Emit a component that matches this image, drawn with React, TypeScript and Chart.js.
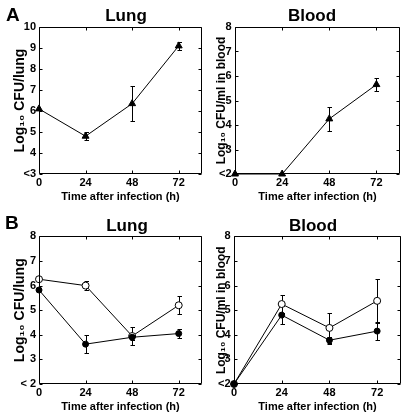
import React, { useEffect, useRef } from 'react';
import { Chart, registerables } from 'chart.js';

Chart.register(...registerables);

const FONT = "'Liberation Sans', Arial, Helvetica, sans-serif";

// ---------- data ----------
const hours = [0, 24, 48, 72];
const xTickValues = [0, 24, 48, 72];
const xTickLabels = ['0', '24', '48', '72'];

const lungAYTicks = [3, 4, 5, 6, 7, 8, 9, 10];
const lungAYLabels = ['<3', '4', '5', '6', '7', '8', '9', '10'];
const log2to8Ticks = [2, 3, 4, 5, 6, 7, 8];
const lungBYLabels = ['< 2', '3', '4', '5', '6', '7', '8'];
const bloodYLabels = ['<2', '3', '4', '5', '6', '7', '8'];

// Panel A (triangles)
const lungA = [6.1, 4.8, 6.35, 9.1];
const lungAErr = [0, 0.2, 0.85, 0.2];
const bloodA = [2, 2, 4.25, 5.65];
const bloodAErr = [0, 0, 0.5, 0.25];

// Panel B (filled and open circles)
const lungBFilled = [5.82, 3.62, 3.9, 4.05];
const lungBFilledErr = [0, 0.38, 0.1, 0.2];
const lungBOpen = [6.26, 6.0, 3.95, 5.2];
const lungBOpenErr = [0, 0.18, 0.35, 0.37];
const bloodBFilled = [2, 4.8, 3.78, 4.15];
const bloodBFilledErr = [0, 0.38, 0.15, 0.38];
const bloodBOpen = [2, 5.25, 4.28, 5.38];
const bloodBOpenErr = [0, 0.36, 0.6, 0.9];

// ---------- plugin: frame, inward ticks, error bars ----------
const decorPlugin = {
  id: 'decor',
  beforeDatasetsDraw(chart: any) {
    const ctx = chart.ctx;
    const yScale = chart.scales.y;
    ctx.save();
    ctx.strokeStyle = '#000';
    ctx.lineWidth = 1;
    chart.data.datasets.forEach((ds: any, i: number) => {
      const meta = chart.getDatasetMeta(i);
      const errs = ds.errors || [];
      meta.data.forEach((pt: any, j: number) => {
        const e = errs[j];
        if (!e) return;
        const v = ds.data[j].y;
        const x = Math.round(pt.x) + 0.5;
        const yTop = Math.round(yScale.getPixelForValue(v + e)) + 0.5;
        const yBot = Math.round(yScale.getPixelForValue(v - e)) + 0.5;
        const cap = 2;
        ctx.beginPath();
        ctx.moveTo(x, yTop);
        ctx.lineTo(x, yBot);
        ctx.moveTo(x - cap, yTop);
        ctx.lineTo(x + cap + 0.5, yTop);
        ctx.moveTo(x - cap, yBot);
        ctx.lineTo(x + cap + 0.5, yBot);
        ctx.stroke();
      });
    });
    ctx.restore();
  },
  afterDraw(chart: any) {
    const ctx = chart.ctx;
    const { left, right, top, bottom } = chart.chartArea;
    const L = Math.round(left) + 0.5;
    const R = Math.round(right) - 0.5;
    const T = Math.round(top) + 0.5;
    const B = Math.round(bottom) - 0.5;
    const tl = 3;
    ctx.save();
    ctx.strokeStyle = '#000';
    ctx.lineWidth = 1;
    ctx.beginPath();
    ctx.rect(L, T, R - L, B - T);
    const xs = chart.scales.x;
    xs.ticks.forEach((t: any) => {
      const px = Math.round(xs.getPixelForValue(t.value)) + 0.5;
      ctx.moveTo(px, B);
      ctx.lineTo(px, B - tl);
      ctx.moveTo(px, T);
      ctx.lineTo(px, T + tl);
    });
    const ys = chart.scales.y;
    ys.ticks.forEach((t: any) => {
      const py = Math.round(ys.getPixelForValue(t.value)) + 0.5;
      ctx.moveTo(L, py);
      ctx.lineTo(L + tl, py);
      ctx.moveTo(R, py);
      ctx.lineTo(R - tl, py);
    });
    ctx.stroke();
    ctx.restore();
  },
};

type Series = { values: number[]; errors: number[]; style: 'triangle' | 'filled' | 'open' };

type PanelSpec = {
  left: number;
  top: number;
  width: number;
  height: number;
  title: string;
  titlePad: { top: number; bottom: number };
  yTitle: string;
  yTitleSize: number;
  yTitlePad: number;
  yMin: number;
  yMax: number;
  yTicks: number[];
  yLabels: string[];
  yAxisWidth: number;
  yTickPad: number;
  rightWidth: number;
  series: Series[];
};

function makeDataset(s: Series) {
  return {
    data: hours.map((h, i) => ({ x: h, y: s.values[i] })),
    errors: s.errors,
    borderColor: '#000',
    borderWidth: 1,
    pointStyle: s.style === 'triangle' ? 'triangle' : 'circle',
    pointRadius: s.style === 'triangle' ? 4 : s.style === 'open' ? 3.5 : 3,
    pointBackgroundColor: s.style === 'open' ? '#fff' : '#000',
    pointBorderColor: '#000',
    pointBorderWidth: 1,
    tension: 0,
    fill: false,
    clip: false,
  };
}

function makeConfig(p: PanelSpec): any {
  return {
    type: 'line',
    data: { datasets: p.series.map(makeDataset) },
    plugins: [decorPlugin],
    options: {
      animation: false,
      responsive: false,
      maintainAspectRatio: false,
      events: [],
      layout: { padding: 0 },
      plugins: {
        legend: { display: false },
        tooltip: { enabled: false },
        title: {
          display: true,
          text: p.title,
          color: '#000',
          font: { family: FONT, size: 17, weight: 'bold' },
          padding: p.titlePad,
        },
      },
      scales: {
        x: {
          type: 'linear',
          min: 0,
          max: 84,
          afterBuildTicks: (s: any) => {
            s.ticks = xTickValues.map((v) => ({ value: v }));
          },
          afterFit: (s: any) => {
            s.height = 36;
          },
          grid: { display: false, drawTicks: false },
          border: { display: false },
          ticks: {
            color: '#000',
            padding: 2,
            maxRotation: 0,
            autoSkip: false,
            font: { family: FONT, size: 11, weight: 'bold' },
            callback: (_v: any, i: number) => xTickLabels[i],
          },
          title: {
            display: true,
            text: 'Time after infection (h)',
            color: '#000',
            font: { family: FONT, size: 11, weight: 'bold' },
            padding: { top: 0, bottom: 6.4 },
          },
        },
        y: {
          type: 'linear',
          position: 'left',
          min: p.yMin,
          max: p.yMax,
          afterBuildTicks: (s: any) => {
            s.ticks = p.yTicks.map((v) => ({ value: v }));
          },
          afterFit: (s: any) => {
            s.width = p.yAxisWidth;
          },
          grid: { display: false, drawTicks: false },
          border: { display: false },
          ticks: {
            color: '#000',
            padding: p.yTickPad,
            autoSkip: false,
            font: { family: FONT, size: 11, weight: 'bold' },
            callback: (_v: any, i: number) => p.yLabels[i],
          },
          title: {
            display: true,
            text: p.yTitle,
            color: '#000',
            font: { family: FONT, size: p.yTitleSize, weight: 'bold' },
            padding: { top: p.yTitlePad, bottom: 0 },
          },
        },
        spacer: {
          type: 'linear',
          position: 'right',
          display: true,
          grid: { display: false, drawTicks: false },
          border: { display: false },
          ticks: { display: false },
          afterFit: (s: any) => {
            s.width = p.rightWidth;
          },
        },
      },
    },
  };
}

function Panel({ spec }: { spec: PanelSpec }) {
  const ref = useRef<HTMLCanvasElement | null>(null);
  useEffect(() => {
    if (!ref.current) return;
    const chart = new Chart(ref.current, makeConfig(spec));
    return () => chart.destroy();
  }, [spec]);
  return (
    <canvas
      ref={ref}
      width={spec.width}
      height={spec.height}
      style={{
        position: 'absolute',
        left: spec.left,
        top: spec.top,
        width: spec.width,
        height: spec.height,
      }}
    />
  );
}

const panels: PanelSpec[] = [
  {
    left: 0, top: 0, width: 252, height: 210,
    title: 'Lung', titlePad: { top: 6.6, bottom: 0 },
    yTitle: 'Log₁₀ CFU/lung', yTitleSize: 14, yTitlePad: 12,
    yMin: 3, yMax: 10, yTicks: lungAYTicks, yLabels: lungAYLabels,
    yAxisWidth: 39, yTickPad: 3, rightWidth: 50,
    series: [{ values: lungA, errors: lungAErr, style: 'triangle' }],
  },
  {
    left: 208, top: 0, width: 208, height: 210,
    title: 'Blood', titlePad: { top: 6.6, bottom: 0 },
    yTitle: 'Log₁₀ CFU/ml in blood', yTitleSize: 12, yTitlePad: 6,
    yMin: 2, yMax: 8, yTicks: log2to8Ticks, yLabels: bloodYLabels,
    yAxisWidth: 27, yTickPad: 3.5, rightWidth: 16,
    series: [{ values: bloodA, errors: bloodAErr, style: 'triangle' }],
  },
  {
    left: 0, top: 210, width: 254, height: 210,
    title: 'Lung', titlePad: { top: 6, bottom: 0 },
    yTitle: 'Log₁₀ CFU/lung', yTitleSize: 14, yTitlePad: 12,
    yMin: 2, yMax: 8, yTicks: log2to8Ticks, yLabels: lungBYLabels,
    yAxisWidth: 39, yTickPad: 3, rightWidth: 52,
    series: [
      { values: lungBFilled, errors: lungBFilledErr, style: 'filled' },
      { values: lungBOpen, errors: lungBOpenErr, style: 'open' },
    ],
  },
  {
    left: 208, top: 210, width: 210, height: 210,
    title: 'Blood', titlePad: { top: 6, bottom: 0 },
    yTitle: 'Log₁₀ CFU/ml in blood', yTitleSize: 12, yTitlePad: 6,
    yMin: 2, yMax: 8, yTicks: log2to8Ticks, yLabels: bloodYLabels,
    yAxisWidth: 26, yTickPad: 3.5, rightWidth: 17,
    series: [
      { values: bloodBFilled, errors: bloodBFilledErr, style: 'filled' },
      { values: bloodBOpen, errors: bloodBOpenErr, style: 'open' },
    ],
  },
];

const letterStyle: React.CSSProperties = {
  position: 'absolute',
  fontFamily: FONT,
  fontWeight: 'bold',
  fontSize: 19,
  lineHeight: '19px',
  color: '#000',
};

export default function App() {
  return (
    <div
      style={{
        position: 'fixed',
        left: 0,
        top: 0,
        width: 406,
        height: 420,
        overflow: 'hidden',
        background: '#fff',
      }}
    >
      {panels.map((p, i) => (
        <Panel key={i} spec={p} />
      ))}
      <div style={{ ...letterStyle, left: 6, top: 5 }}>A</div>
      <div style={{ ...letterStyle, left: 5, top: 213 }}>B</div>
    </div>
  );
}
